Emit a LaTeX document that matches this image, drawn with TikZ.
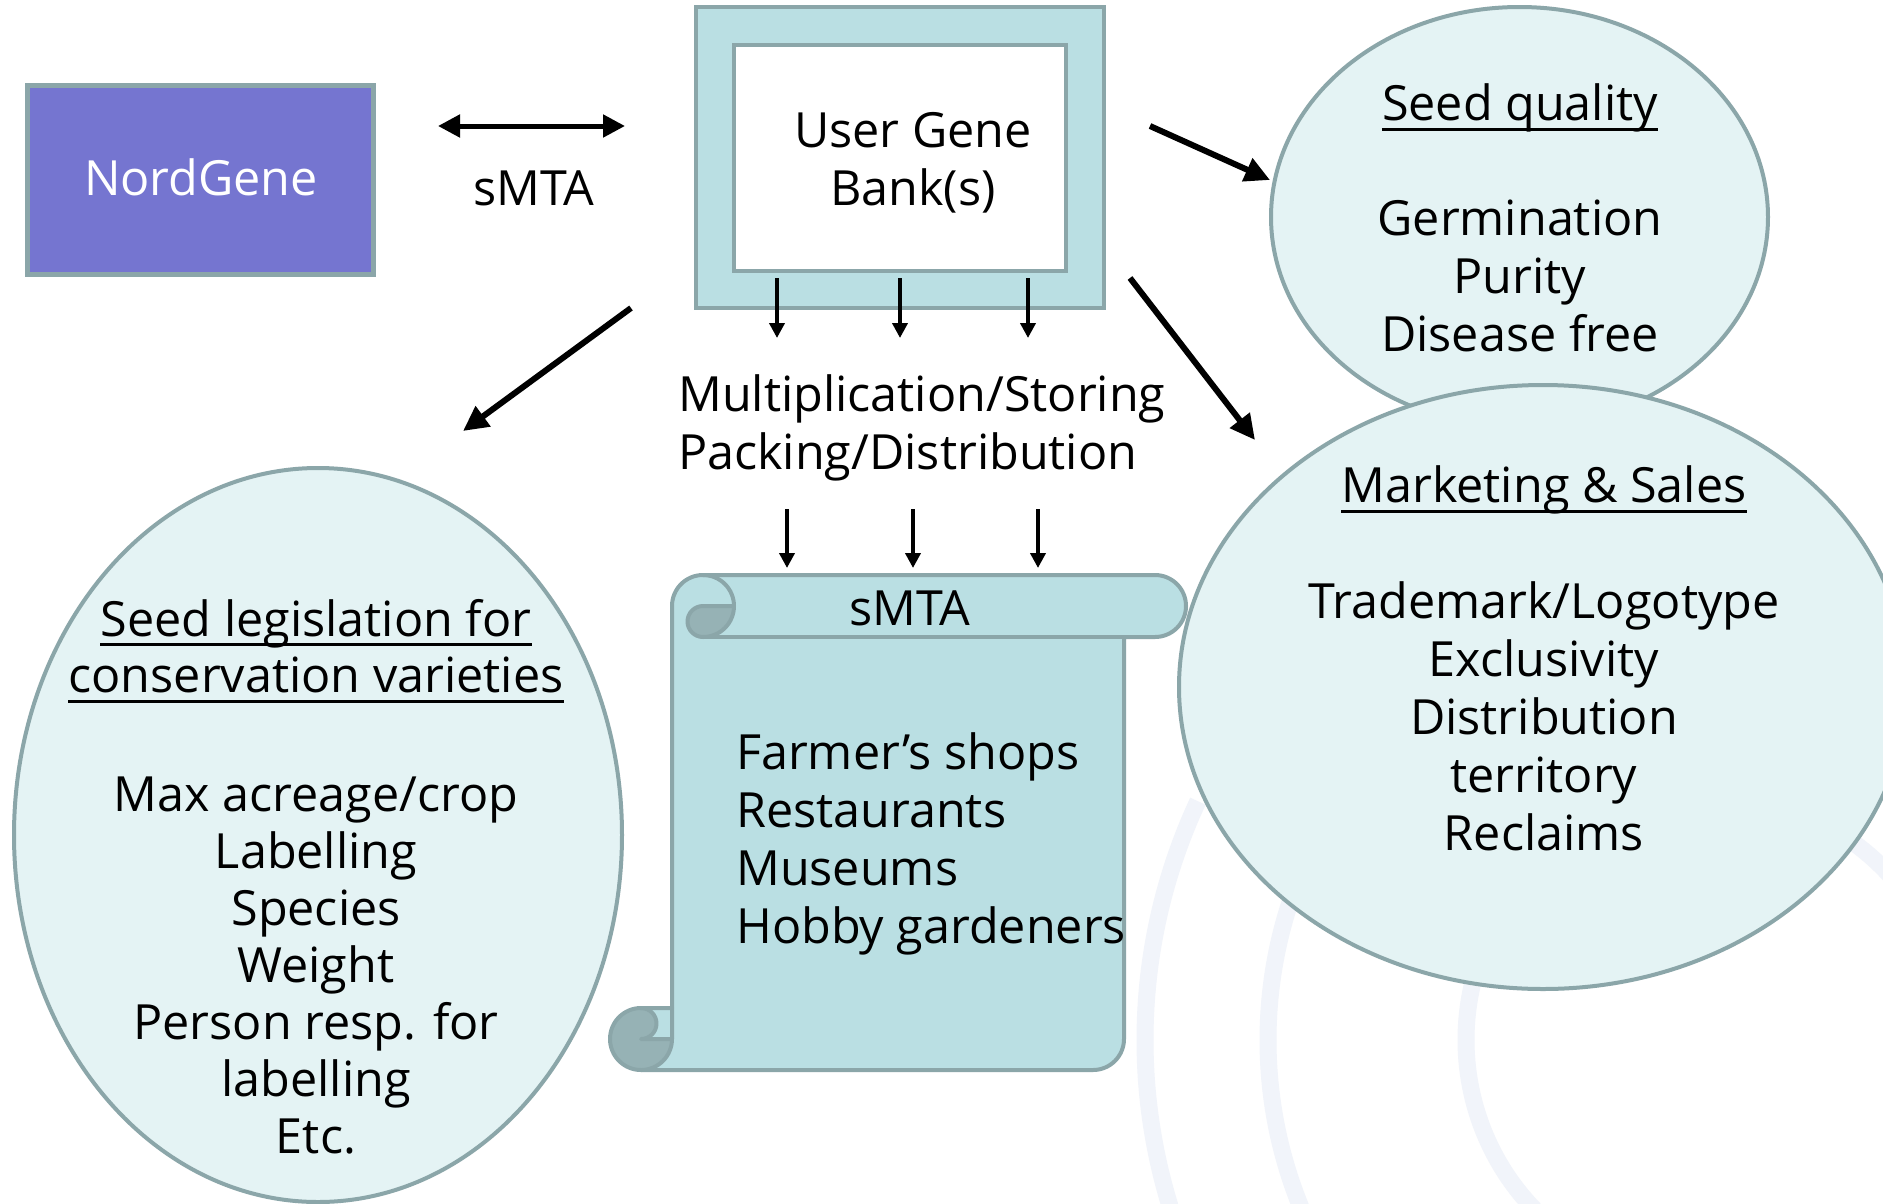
\documentclass[tikz,border=0pt]{standalone}
\usepackage{fontspec}
\setmainfont{Open Sans}
\usetikzlibrary{shapes.geometric,arrows.meta}
\definecolor{bordc}{RGB}{139,166,169}
\definecolor{scrollc}{RGB}{186,223,227}
\definecolor{darkc}{RGB}{150,178,181}
\definecolor{ellc}{RGB}{228,243,244}
\definecolor{nordc}{RGB}{117,117,208}
\definecolor{arcc}{RGB}{241,244,250}
\begin{document}
\begin{tikzpicture}[x=1pt, y=-1pt,
  txt/.style={font=\fontsize{48.5}{58}\selectfont, inner sep=0pt, text=black},
  txtl/.style={font=\fontsize{48.5}{57}\selectfont, inner sep=0pt, text=black},
  ell/.style={ellipse, draw=bordc, fill=ellc, line width=4pt, inner sep=0pt},
  rbox/.style={rectangle, draw=bordc, line width=4pt, inner sep=0pt},
  ul/.style={line width=3pt, black},
  bigarr/.style={line width=6pt, -{Triangle[length=25pt,width=24pt]}},
  smallarr/.style={line width=4pt, -{Triangle[length=15pt,width=15pt]}},
  dblarr/.style={line width=5pt, {Triangle[length=22pt,width=22pt]}-{Triangle[length=22pt,width=22pt]}},
  bgarc/.style={draw=arcc, line width=17pt},
  scrl/.style={draw=bordc, line width=4pt, line join=round, line cap=round},
]
\useasboundingbox (0,0) rectangle (1883,1203);
\fill[white] (0,0) rectangle (1883,1203);
\clip (0,0) rectangle (1883,1203);

% faint background arcs
\draw[bgarc] ([shift={(160:565)}]1710,1040) arc[start angle=160, end angle=205, radius=565];
\draw[bgarc] ([shift={(150:442)}]1710,1040) arc[start angle=150, end angle=215, radius=442];
\draw[bgarc] ([shift={(130:244)}]1710,1040) arc[start angle=130, end angle=320, radius=244];

% ellipses
\node[ell, minimum width=608pt, minimum height=734pt] (legis) at (318,835) {};
\node[ell, minimum width=497pt, minimum height=420pt] (seedq) at (1519.5,217) {};
\node[ell, minimum width=728pt, minimum height=604pt] (market) at (1543,687) {};

% scroll
\begin{scope}[shift={(610,575)}]
  \path[fill=scrollc] (62,433) -- (62,31) arc[start angle=180, delta angle=90, radius=31]
    -- (545,0) arc[start angle=270, delta angle=180, radius=31]
    -- (514,62) -- (514,464) arc[start angle=0, delta angle=90, radius=31]
    -- (31,495) arc[start angle=90, delta angle=180, radius=31] -- cycle;
  \path[fill=darkc] (62,464) arc[start angle=0, delta angle=270, radius=31]
    arc[start angle=270, delta angle=180, radius=15.5] -- cycle;
  \path[fill=darkc] (124,31) arc[start angle=0, delta angle=90, radius=31]
    arc[start angle=90, delta angle=180, radius=15.5] -- cycle;
  \draw[scrl] (62,433) -- (62,31) arc[start angle=180, delta angle=90, radius=31]
    -- (545,0) arc[start angle=270, delta angle=180, radius=31]
    -- (514,62) -- (514,464) arc[start angle=0, delta angle=90, radius=31]
    -- (31,495) arc[start angle=90, delta angle=180, radius=31] -- cycle;
  \draw[scrl] (93,0) arc[start angle=270, delta angle=180, radius=31]
    arc[start angle=90, delta angle=180, radius=15.5] -- (124,31);
  \draw[scrl] (514,62) -- (93,62);
  \draw[scrl] (31,433) arc[start angle=270, delta angle=180, radius=15.5] -- (62,464);
  \draw[scrl] (31,495) arc[start angle=90, delta angle=-90, radius=31] -- (62,433);
\end{scope}

% boxes
\node[rbox, line width=5pt, fill=nordc, minimum width=346pt, minimum height=189pt] (nord) at (200.5,180) {};
\node[rbox, fill=scrollc, minimum width=408pt, minimum height=301pt] (bankout) at (900,157.5) {};
\node[rbox, fill=white, minimum width=332pt, minimum height=226pt] (bankin) at (900,158) {};

% arrows
\coordinate (d1) at (438,126); \coordinate (d2) at (625,126);
\draw[dblarr] (d1) -- (d2);
\coordinate (l1) at (631,308); \coordinate (l2) at (463,431);
\draw[bigarr] (l1) -- (l2);
\coordinate (q1) at (1150,126); \coordinate (q2) at (1270,180);
\draw[bigarr] (q1) -- (q2);
\coordinate (m1) at (1130,278); \coordinate (m2) at (1255,440);
\draw[bigarr] (m1) -- (m2);
\foreach \i/\xx in {1/777,2/900,3/1028}{
  \coordinate (bs\i) at (\xx,278); \coordinate (be\i) at (\xx,338);
  \draw[smallarr] (bs\i) -- (be\i);
}
\foreach \i/\xx in {1/787,2/913,3/1038}{
  \coordinate (ms\i) at (\xx,509); \coordinate (me\i) at (\xx,568);
  \draw[smallarr] (ms\i) -- (me\i);
}

% texts
\node[txt, anchor=base, text=white] (nordtxt) at (201,195) {NordGene};
\node[txt, anchor=base] (smtalbl) at (534,205) {sMTA};
\node[txt, align=center] (banktxt) at (913,165) {\strut User Gene\\\strut Bank(s)};
\node[txt, align=left, anchor=west] (multtxt) at (678,428.4) {\strut Multiplication/Storing\\\strut Packing/Distribution};

\node[txt, anchor=base] (sqh) at (1520,120) {Seed quality};
\draw[ul] ([yshift=-9pt]sqh.base west) -- ([yshift=-9pt]sqh.base east);
\node[txt, align=center] (sqbody) at (1520,282) {\strut Germination\\\strut Purity\\\strut Disease free};

\node[txt, anchor=base] (mkh) at (1544,502) {Marketing \& Sales};
\draw[ul] ([yshift=-9pt]mkh.base west) -- ([yshift=-9pt]mkh.base east);
\node[txt, align=center] (mkbody) at (1544,722.4) {\strut Trademark/Logotype\\\strut Exclusivity\\\strut Distribution\\\strut territory\\\strut Reclaims};

\node[txt, anchor=base] (lgh1) at (316,636) {Seed legislation for};
\draw[ul] ([yshift=-8pt]lgh1.base west) -- ([yshift=-8pt]lgh1.base east);
\node[txt, anchor=base] (lgh2) at (316,692) {conservation varieties};
\draw[ul] ([yshift=-9pt]lgh2.base west) -- ([yshift=-9pt]lgh2.base east);
\node[txtl, align=center] (lgbody) at (316,971) {\strut Max acreage/crop\\\strut Labelling\\\strut Species\\\strut Weight\\\strut Person resp. for\\\strut labelling\\\strut Etc.};

\node[txt, anchor=base] (scrh) at (910,625) {sMTA};
\node[txt, align=left, anchor=west] (scrbody) at (736,844.4) {\strut Farmer’s shops\\\strut Restaurants\\\strut Museums\\\strut Hobby gardeners};
\end{tikzpicture}
\end{document}
